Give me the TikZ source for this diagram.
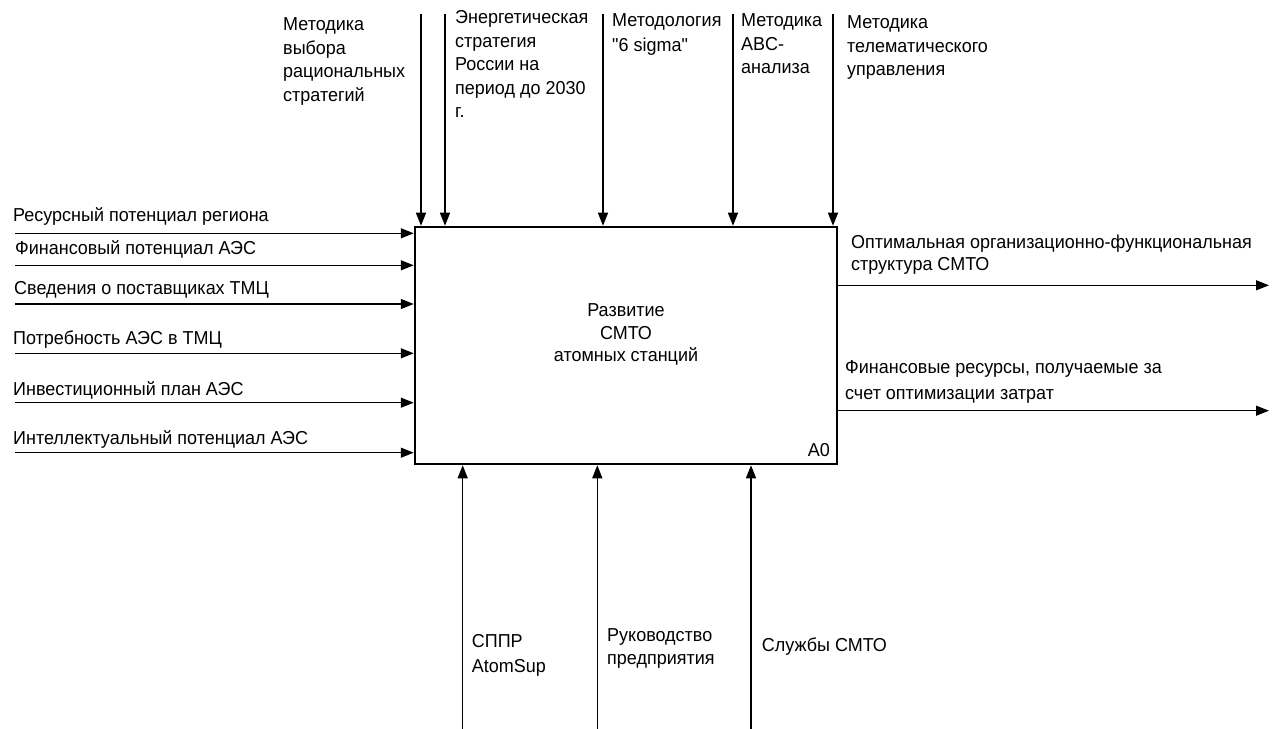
\documentclass[tikz,border=0pt]{standalone}
\usepackage{fontspec}
\setmainfont[FakeStretch=0.96, Ligatures=TeXOff]{Liberation Sans}
\usetikzlibrary{arrows.meta}
\begin{document}
\begin{tikzpicture}[x=1bp,y=-1bp,
  % labels are placed by the baseline of their last line
  lbl/.style={inner sep=0pt, anchor=base west, align=left,
    font=\fontsize{18.8}{24}\selectfont},
  flow/.style={line width=1.4bp, -{Triangle[length=13bp,width=10bp]}},
  func/.style={draw, line width=2.5bp, minimum width=422bp,
    minimum height=237bp, inner sep=0pt}]
\useasboundingbox (0,0) rectangle (1280,729);

% function block A0
\node[func] (box) at (626,345.5) {};
\node[lbl, anchor=base, align=center, font=\fontsize{18.8}{22.5}\selectfont]
  (title) at (626,361.7) {Развитие\\СМТО\\атомных станций};
\node[lbl, anchor=base east] (a0) at (830,456.7) {A0};

% controls (top)
\coordinate (c1) at (421,14);
\coordinate (c2) at (445,14);
\coordinate (c3) at (603,14);
\coordinate (c4) at (733,14);
\coordinate (c5) at (833,14);
\foreach \c in {c1,c2,c3,c4,c5}
  \draw[flow] (\c) -- (\c |- box.north);
\node[lbl, font=\fontsize{18.8}{23.7}\selectfont] (tc1) at (283,101.5) {Методика\\выбора\\рациональных\\стратегий};
\node[lbl, font=\fontsize{18.8}{23.6}\selectfont] (tc2) at (455,118) {Энергетическая\\стратегия\\России на\\период до 2030\\г.};
\node[lbl, font=\fontsize{18.8}{25}\selectfont] (tc3) at (612,51.7) {Методология\\"6 sigma"};
\node[lbl] (tc4) at (741,74) {Методика\\ABC-\\анализа};
\node[lbl] (tc5) at (847,76) {Методика\\телематического\\управления};

% inputs (left)
\coordinate (i1) at (15,233.3);
\coordinate (i2) at (15,265.3);
\coordinate (i3) at (15,304);
\coordinate (i4) at (15,353.3);
\coordinate (i5) at (15,402.7);
\coordinate (i6) at (15,452.7);
\foreach \i in {i1,i2,i3,i4,i5,i6}
  \draw[flow] (\i) -- (\i -| box.west);
\node[lbl] (ti1) at (13,221.7) {Ресурсный потенциал региона};
\node[lbl] (ti2) at (15,255) {Финансовый потенциал АЭС};
\node[lbl] (ti3) at (14,294.3) {Сведения о поставщиках ТМЦ};
\node[lbl] (ti4) at (13,344) {Потребность АЭС в ТМЦ};
\node[lbl] (ti5) at (13,395.7) {Инвестиционный план АЭС};
\node[lbl] (ti6) at (13,444) {Интеллектуальный потенциал АЭС};

% outputs (right)
\coordinate (o1) at (1269,285.3);
\coordinate (o2) at (1269,410.7);
\foreach \o in {o1,o2}
  \draw[flow] (\o -| box.east) -- (\o);
\node[lbl, font=\fontsize{18.8}{22.4}\selectfont] (to1) at (851,270.7)
  {Оптимальная организационно-функциональная\\структура СМТО};
\node[lbl, font=\fontsize{18.8}{26}\selectfont] (to2) at (845,399.5)
  {Финансовые ресурсы, получаемые за\\счет оптимизации затрат};

% mechanisms (bottom)
\coordinate (m1) at (462.7,729);
\coordinate (m2) at (597.3,729);
\coordinate (m3) at (751,729);
\foreach \m in {m1,m2,m3}
  \draw[flow] (\m) -- (\m |- box.south);
\node[lbl, font=\fontsize{18.8}{25}\selectfont] (tm1) at (471.7,672.7) {СППР\\AtomSup};
\node[lbl, font=\fontsize{18.8}{22.5}\selectfont] (tm2) at (607,664) {Руководство\\предприятия};
\node[lbl] (tm3) at (761.7,651.7) {Службы СМТО};
\end{tikzpicture}
\end{document}
